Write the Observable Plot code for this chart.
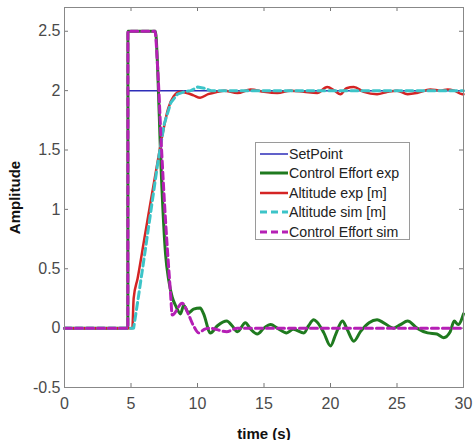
<!DOCTYPE html>
<html>
<head>
<meta charset="utf-8">
<script src="https://cdn.jsdelivr.net/npm/d3@7"></script>
<script src="https://cdn.jsdelivr.net/npm/@observablehq/plot@0.6"></script>
<style>
  html, body { margin: 0; padding: 0; background: #fff; }
  #wrap { position: relative; width: 473px; height: 440px; font-family: "Liberation Sans", Arial, sans-serif; }
  #wrap svg [aria-label="x-axis label"] text, #wrap svg [aria-label="y-axis label"] text { font-weight: bold; fill: #111; font-size: 15px; }
  #legend { position: absolute; left: 255px; top: 142px; width: 155px; height: 98px; box-sizing: border-box;
    border: 1px solid #9a9a9a; background: #fff; padding-top: 1px; }
  .row { display: flex; align-items: center; height: 19.5px; font-size: 14.2px; color: #222; }
  .row svg { margin-left: 4px; margin-right: 1px; }
</style>
</head>
<body>
<div id="wrap"></div>
<script>
// ---- data ----
const setT = [0, 4.8, 4.8, 30];
const setV = [0, 0, 2, 2];

const ctrlExpT = [0, 4.76, 4.77, 6.84, 7.0, 7.22, 7.6, 7.84, 8.1, 8.4, 8.72, 8.96, 9.34, 9.7, 10.2, 10.46, 10.97, 11.5, 12.2, 12.6, 13.0, 13.6, 14.0, 14.5, 15.0, 15.5, 16.0, 16.7, 17.2, 18.0, 18.35, 18.74, 19.0, 19.5, 20.0, 20.4, 20.9, 21.25, 21.75, 22.25, 22.9, 23.5, 24.0, 24.75, 25.26, 25.8, 26.5, 27.3, 28.0, 28.5, 29.0, 29.3, 29.6, 30];
const ctrlExpV = [0, 0, 2.5, 2.5, 2.2, 1.47, 0.62, 0.40, 0.26, 0.18, 0.12, 0.19, 0.13, 0.16, 0.17, 0.12, -0.04, 0.02, 0.06, 0.02, -0.03, 0.045, -0.01, -0.05, 0.0, 0.03, 0, -0.04, -0.01, -0.04, 0.02, 0.07, 0.05, -0.04, -0.15, -0.05, 0.06, -0.01, -0.11, -0.03, 0.045, 0.07, 0.045, 0, 0.03, 0.06, 0, -0.04, -0.05, -0.08, -0.03, 0.06, 0.03, 0.12];

const altExpT = [0, 5.1, 5.2, 5.5, 6.0, 6.5, 7.0, 7.4, 7.8, 8.2, 8.7, 9.2, 9.7, 10.2, 10.8, 11.5, 12, 13, 14, 15, 16, 17, 18, 19, 19.75, 20.3, 20.75, 21.2, 21.75, 22.5, 23.5, 24.3, 25, 25.8, 26.5, 27.5, 28.3, 28.8, 29.3, 29.9, 30];
const altExpV = [0, 0, 0.25, 0.42, 0.75, 1.08, 1.4, 1.65, 1.85, 1.95, 1.99, 1.98, 1.96, 1.94, 1.97, 1.99, 2.0, 1.98, 2.01, 1.99, 1.98, 2.0, 1.99, 1.98, 2.03, 2.0, 1.97, 2.02, 2.03, 1.99, 1.97, 1.99, 2.0, 1.97, 1.98, 2.01, 2.0, 2.01, 2.0, 1.97, 1.97];

const altSimT = [0, 5.2, 5.5, 6.0, 6.5, 7.0, 7.5, 8.0, 8.5, 9.0, 9.5, 10.0, 10.5, 11, 12, 30];
const altSimV = [0, 0, 0.22, 0.6, 0.99, 1.38, 1.72, 1.9, 1.97, 1.99, 2.0, 2.03, 2.02, 2.0, 2.0, 2.0];

const ctrlSimT = [0, 4.76, 4.77, 6.8, 7.0, 7.3, 7.6, 7.97, 8.1, 8.85, 9.3, 9.7, 10.1, 10.5, 10.9, 12.2, 13, 30];
const ctrlSimV = [0, 0, 2.5, 2.5, 2.2, 1.5, 0.9, 0.3, 0.11, 0.21, 0.12, 0.02, -0.04, -0.01, 0.0, -0.03, 0, 0];

const xTicks = [0, 5, 10, 15, 20, 25, 30];
const yTicks = [-0.5, 0, 0.5, 1, 1.5, 2, 2.5];
const seriesNames = ["SetPoint", "Control Effort exp", "Altitude exp [m]", "Altitude sim [m]", "Control Effort sim"];
const seriesColors = ["#2d2db8", "#1f7a1f", "#d42424", "#3cc4c8", "#b51fb5"];
const seriesDash = [null, null, null, "7,4", "7,4"];
const seriesWidth = [1.5, 3, 2.5, 3, 3];
const seriesCurve = ["linear", "monotone-x", "monotone-x", "linear", "monotone-x"];

const toRows = (T, V) => T.map((t, i) => ({t, v: V[i]}));
const xDom = [0, 30], yDom = [-0.5, 2.7];
const tickY = 4 * (yDom[1] - yDom[0]) / 380;
const tickX = 4 * (xDom[1] - xDom[0]) / 399;

const lineMark = (T, V, k) => Plot.line(toRows(T, V), {
  x: "t", y: "v", stroke: seriesColors[k], strokeWidth: seriesWidth[k],
  strokeDasharray: seriesDash[k], curve: seriesCurve[k], strokeLinejoin: "round"
});

const chart = Plot.plot({
  width: 473, height: 440,
  marginLeft: 64, marginRight: 10, marginTop: 7, marginBottom: 53,
  style: {fontFamily: "'Liberation Sans', Arial, sans-serif", fontSize: "16px", color: "#4a4a4a", background: "#fff"},
  x: {domain: xDom},
  y: {domain: yDom},
  marks: [
    Plot.axisX({ticks: xTicks, tickSize: 0, tickPadding: 10, tickFormat: d => String(d), fontSize: 16,
      label: "time (s)", labelAnchor: "center", labelOffset: 51, labelArrow: "none"}),
    Plot.axisY({ticks: yTicks, tickSize: 0, tickPadding: 4, tickFormat: d => String(d), fontSize: 16,
      label: "Amplitude", labelAnchor: "center", labelOffset: 55, labelArrow: "none"}),
    Plot.ruleX(xTicks, {x: d => d, y1: yDom[0], y2: yDom[0] + tickY, stroke: "#777"}),
    Plot.ruleX(xTicks, {x: d => d, y1: yDom[1], y2: yDom[1] - tickY, stroke: "#777"}),
    Plot.ruleY(yTicks, {y: d => d, x1: xDom[0], x2: xDom[0] + tickX, stroke: "#777"}),
    Plot.ruleY(yTicks, {y: d => d, x1: xDom[1], x2: xDom[1] - tickX, stroke: "#777"}),
    lineMark(setT, setV, 0),
    lineMark(ctrlExpT, ctrlExpV, 1),
    lineMark(altExpT, altExpV, 2),
    lineMark(altSimT, altSimV, 3),
    lineMark(ctrlSimT, ctrlSimV, 4),
    Plot.frame({stroke: "#888"})
  ]
});

const wrap = document.getElementById("wrap");
wrap.appendChild(chart);

const legend = document.createElement("div");
legend.id = "legend";
seriesNames.forEach((name, k) => {
  const row = document.createElement("div");
  row.className = "row";
  const dash = seriesDash[k] ? `stroke-dasharray="${seriesDash[k]}"` : "";
  row.innerHTML = `<svg width="28" height="8"><line x1="0" y1="4" x2="28" y2="4" stroke="${seriesColors[k]}" stroke-width="${seriesWidth[k]}" ${dash}/></svg><span>${name}</span>`;
  legend.appendChild(row);
});
wrap.appendChild(legend);
</script>
</body>
</html>
